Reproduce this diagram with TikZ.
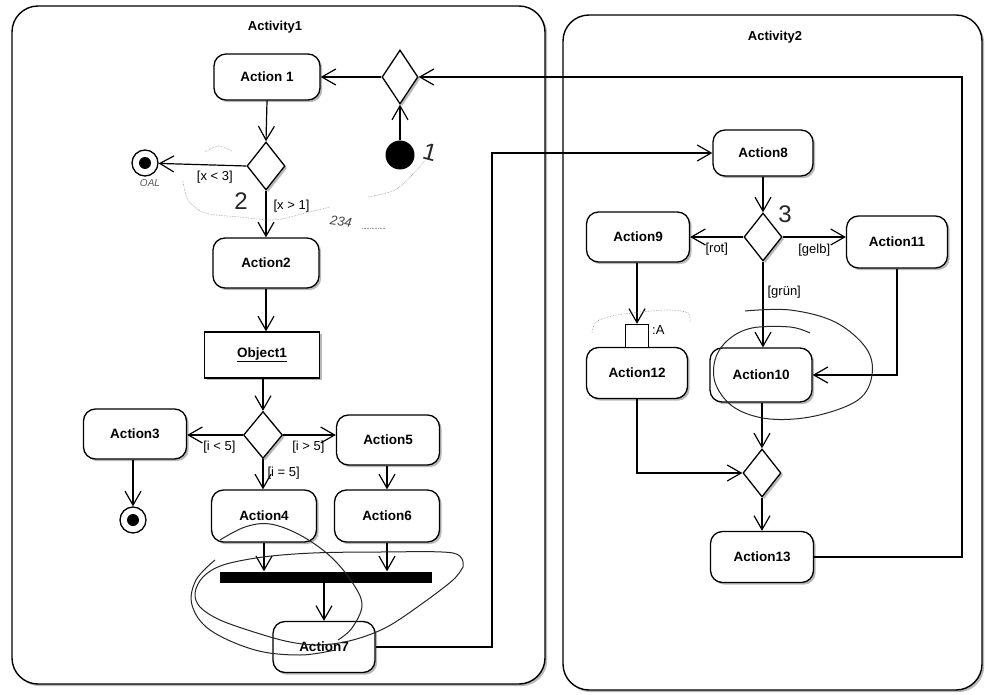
\documentclass[tikz,border=0pt]{standalone}
\usepackage{fontspec}
\setmainfont{Liberation Sans}
\usetikzlibrary{arrows.meta,shapes.geometric,shadows,calc}
\tikzset{
  shad/.style={drop shadow={shadow xshift=2.2pt, shadow yshift=-2.2pt, fill=gray!55, opacity=1}},
  act/.style={draw, line width=1.3pt, rounded corners=12pt, fill=white, shad,
    minimum width=103pt, minimum height=50pt, inner sep=0pt,
    font=\bfseries\fontsize{13.5}{16}\selectfont},
  objbox/.style={draw, line width=1.3pt, fill=white, shad, minimum width=115pt,
    minimum height=46pt, inner sep=0pt, font=\bfseries\fontsize{13.5}{16}\selectfont},
  dec/.style={draw, diamond, line width=1.3pt, fill=white, shad, inner sep=0pt,
    minimum width=38pt, minimum height=48pt},
  frame/.style={draw, line width=1.4pt, rounded corners=26pt, fill=white, shad},
  arr/.style={line width=1.2pt, -{Straight Barb[length=14pt,width=16pt,line width=1.2pt]}},
  lbl/.style={font=\fontsize{13}{15}\selectfont, inner sep=1pt},
  ttl/.style={font=\bfseries\fontsize{13}{15}\selectfont},
  hand/.style={line width=1pt, black!85},
  dots/.style={densely dotted, line width=0.6pt, gray!80},
  handtxt/.style={font=\fontsize{24}{26}\selectfont, black!85},
}
\begin{document}
\begin{tikzpicture}[x=1pt,y=-1pt]
\useasboundingbox (0,0) rectangle (985,695);
% frames
\path[frame] (12,6) rectangle (545,684);
\path[frame] (563,15) rectangle (982,690);
\node[ttl] (t1) at (275,27) {Activity1};
\node[ttl] (t2) at (775,37) {Activity2};

% Activity1 nodes
\node[act, minimum width=106pt, minimum height=46pt] (a1) at (267,77) {Action 1};
\node[dec, minimum width=36pt, minimum height=54pt] (d0) at (400,77) {};
\node[circle, fill=black, minimum width=27pt, minimum height=29pt, inner sep=0pt] (init) at (400,155) {};
\node[dec] (d1) at (266,166) {};
\node[circle, draw, line width=1.3pt, fill=white, minimum size=26pt, inner sep=0pt] (fin1) at (145,163) {};
\node[circle, fill=black, minimum size=12pt, inner sep=0pt] (fin1i) at (fin1) {};
\node[act, minimum width=106pt] (a2) at (266,263) {Action2};
\node[objbox] (obj) at (262,355) {\underline{Object1}};
\node[dec, minimum width=39pt, minimum height=47pt] (d2) at (263,435) {};
\node[act] (a3) at (135,434) {Action3};
\node[circle, draw, line width=1.3pt, fill=white, minimum size=26pt, inner sep=0pt] (fin2) at (133,520) {};
\node[circle, fill=black, minimum size=12pt, inner sep=0pt] (fin2i) at (fin2) {};
\node[act] (a5) at (388,440) {Action5};
\node[act, minimum width=105pt, minimum height=52pt] (a4) at (264,516) {Action4};
\node[act, minimum width=105pt, minimum height=52pt] (a6) at (387,516) {Action6};
\node[fill=black, minimum width=212pt, minimum height=11pt, inner sep=0pt] (bar) at (326,577) {};
\node[act, minimum width=102pt, minimum height=51pt] (a7) at (324,647) {Action7};

% Activity2 nodes
\node[act, minimum width=100pt, minimum height=46pt] (a8) at (763,153) {Action8};
\node[dec] (d3) at (763,237) {};
\node[act] (a9) at (638,237) {Action9};
\node[act, minimum width=101pt, minimum height=52pt] (a11) at (897,242) {Action11};
\node[act, minimum width=102pt, minimum height=54pt] (a10) at (761,375) {Action10};
\node[act, minimum width=101pt, minimum height=51pt] (a12) at (637,373) {Action12};
\node[draw, line width=1.3pt, fill=white, minimum size=23pt, inner sep=0pt] (pin) at (637,336) {};
\node[lbl, anchor=west] (pinl) at (651,330) {:A};
\node[dec] (d4) at (762,473) {};
\node[act, minimum width=103pt, minimum height=51pt] (a13) at (762,557) {Action13};

\coordinate (rt) at (962,77);
\coordinate (lt) at (492,153);

% connectors
\draw[arr] (init) -- (d0.south);
\draw[arr] (d0.west) -- (a1.east);
\draw[arr] (a13.east) -| (rt) -- (d0.east);
\draw[arr] (a1.south) -- (d1.north);
\draw[arr] (d1.west) -- node[lbl, pos=0.36, below=4pt] (lx3) {[x < 3]} (fin1);
\draw[arr] (d1.south) -- node[lbl, pos=0.33, right=6pt] (lx1) {[x > 1]} (a2.north);
\draw[arr] (a2.south) -- (a2.south |- obj.north);
\draw[arr] (obj.south -| d2.north) -- (d2.north);
\draw[arr] (d2.west) -- node[lbl, pos=0.42, below=4pt] (li1) {[i < 5]} (a3.east |- d2.west);
\draw[arr] (a3.south -| fin2.north) -- (fin2.north);
\draw[arr] (d2.east) -- node[lbl, pos=0.48, below=4pt] (li2) {[i > 5]} (a5.west |- d2.east);
\draw[arr] (d2.south) -- node[lbl, pos=0.45, right=3pt] (li3) {[i = 5]} (d2.south |- a4.north);
\draw[arr] (a5.south -| a6.north) -- (a6.north);
\draw[arr] (a4.south) -- (a4.south |- bar.north);
\draw[arr] (a6.south) -- (a6.south |- bar.north);
\draw[arr] (bar.south -| a7.north) -- (a7.north);
\draw[arr] (a7.east) -| (lt) -- (a8.west);
\draw[arr] (a8.south) -- (d3.north);
\draw[arr] (d3.west) -- node[lbl, pos=0.5, below=4pt] (lrot) {[rot]} (a9.east);
\draw[arr] (d3.east) -- node[lbl, pos=0.5, below=5pt] (lgelb) {[gelb]} (a11.west |- d3.east);
\draw[arr] (d3.south) -- node[lbl, pos=0.36, right=3pt] (lgruen) {[grün]} (d3.south |- a10.north);
\draw[arr] (a11.south) |- (a10.east);
\draw[arr] (a9.south -| pin.north) -- (pin.north);
\draw[arr] (a10.south -| d4.north) -- (d4.north);
\draw[arr] (a12.south) |- (d4.west);
\draw[arr] (d4.south) -- (a13.north);

% handwritten annotations
\draw[hand] plot[smooth, tension=0.6] coordinates {(745,311) (790,310) (835,322) (866,348) (872,375) (858,400) (815,416) (770,419) (735,408) (716,385) (715,360) (728,340) (752,328) (790,327) (810,333)};
\draw[hand] plot[smooth, tension=0.6] coordinates {(220,540) (245,527) (270,524) (300,535) (330,556) (352,582) (362,605) (352,628) (338,640)};
\draw[hand] plot[smooth, tension=0.55] coordinates {(463,567) (453,553) (380,552) (313,553) (263,557) (223,565) (203,577) (195,593) (200,607) (220,620) (257,633) (290,642) (320,645) (353,640) (387,627) (423,603) (453,580) (463,567)};
\draw[hand] plot[smooth, tension=0.6] coordinates {(215,560) (196,580) (192,605) (210,630) (255,650) (300,655) (335,650)};
\draw[dots] plot[smooth] coordinates {(183,181) (188,200) (205,213) (240,217) (275,220) (305,213) (330,207)};
\draw[dots] plot[smooth] coordinates {(205,152) (218,146) (232,151)};
\draw[dots] (362,228) -- (385,228);
\draw[dots] plot[smooth] coordinates {(368,197) (395,190) (415,172) (425,160)};
\draw[dots] plot[smooth] coordinates {(592,333) (596,322) (612,316) (640,312) (670,310) (688,313) (690,322)};
\node[handtxt, rotate=-15] (h1) at (430,152) {1};
\node[handtxt] (h2) at (241,201) {2};
\node[handtxt] (h3) at (785,214) {3};
\node[font=\itshape\fontsize{13}{15}\selectfont, black!75, rotate=-8] (h234) at (341,222) {234};
\node[font=\itshape\fontsize{10}{12}\selectfont, black!65] (hoal) at (150,183) {OAL};
\end{tikzpicture}
\end{document}
